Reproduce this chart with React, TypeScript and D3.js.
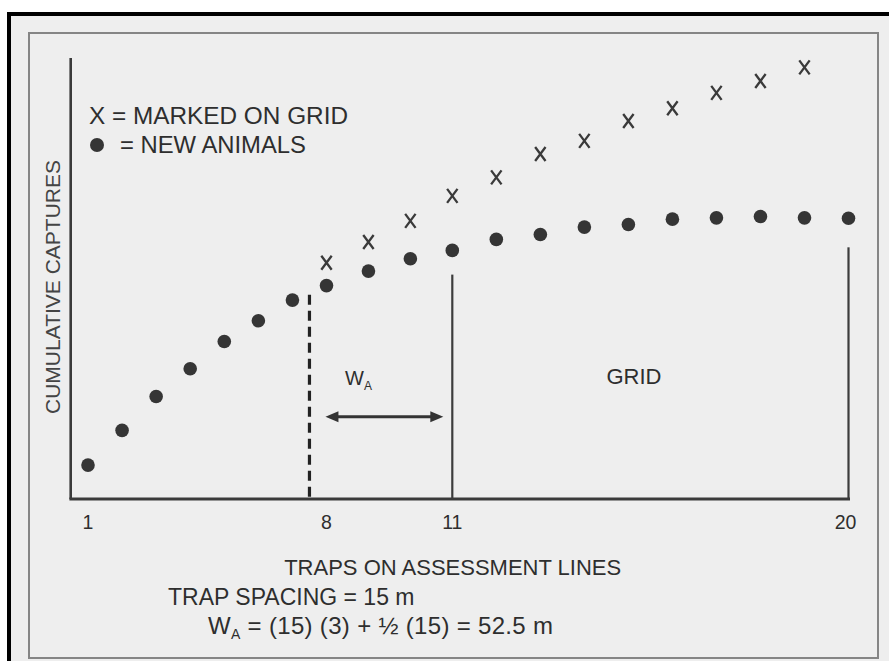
import * as d3 from 'd3';
import React from 'react';

// trap numbers along the assessment line
const TRAPS = [1, 2, 3, 4, 5, 6, 7, 8, 9, 10, 11, 12, 13, 14, 15, 16, 17, 18, 19, 20];
// cumulative new animals (arbitrary units)
const NEW_ANIMALS = [7.7, 15.6, 23.3, 29.6, 35.8, 40.5, 45.2, 48.5, 51.8, 54.6, 56.5, 59.0, 60.1, 61.8, 62.4, 63.6, 63.9, 64.2, 63.9, 63.8];
// traps where animals already marked on the grid were captured
const MARKED_TRAPS = [8, 9, 10, 11, 12, 13, 14, 15, 16, 17, 18, 19];
const MARKED_ON_GRID = [53.7, 58.4, 63.2, 68.9, 73.1, 78.4, 81.4, 85.9, 88.8, 92.3, 95.0, 98.1];
const TICK_TRAPS = [1, 8, 11, 20];

// boundary lines: dashed = edge of W_A, solid = grid edge, last = end of line
const BOUNDARY_TRAPS = [7.5, 11, 20];
const BOUNDARY_TOPS = [46.4, 51.0, 57.2];
const BOUNDARY_DASHED = [true, false, false];

const WIDTH = 889;
const HEIGHT = 661;
const INK = '#2e2e2e';
const FONT = '"Liberation Sans", Arial, Helvetica, sans-serif';

export default function App() {
  // the drawn axis is not evenly spaced, so pin it at the labelled traps
  const x = d3.scaleLinear().domain(TICK_TRAPS).range([88, 326.5, 452.3, 848.5]);
  const y = d3.scaleLinear().domain([0, 100]).range([499, 59]);

  const x0 = 70.7;
  const xEnd = x(20) + 1.5;
  const arrowY = 416.7;
  const arrowL = x(7.5) + 16;
  const arrowR = x(11) - 9;

  const dots = TRAPS.map((t, i) => (
    <circle key={t} cx={x(t)} cy={y(NEW_ANIMALS[i])} r={6.8} fill="#353535" />
  ));

  // X marks drawn as two strokes, like the letter in the original
  const crosses = MARKED_TRAPS.map((t, i) => {
    const cx = x(t);
    const cy = y(MARKED_ON_GRID[i]);
    return (
      <path
        key={t}
        d={`M${cx - 5.2},${cy - 7} L${cx + 5.2},${cy + 7} M${cx + 5.2},${cy - 7} L${cx - 5.2},${cy + 7}`}
        stroke="#3a3a3a"
        strokeWidth={2.3}
        fill="none"
      />
    );
  });

  const boundaries = BOUNDARY_TRAPS.map((t, i) => (
    <line
      key={t}
      x1={x(t)}
      x2={x(t)}
      y1={y(BOUNDARY_TOPS[i])}
      y2={499}
      stroke={BOUNDARY_DASHED[i] ? '#222' : '#3c3c3c'}
      strokeWidth={BOUNDARY_DASHED[i] ? 3.2 : 2.2}
      strokeDasharray={BOUNDARY_DASHED[i] ? '10 6' : undefined}
    />
  ));

  const tickLabels = TICK_TRAPS.map(t => (
    <text key={t} x={t === 20 ? x(t) - 3 : x(t)} y={528.5} textAnchor="middle" fontSize={19.5}>
      {t}
    </text>
  ));

  return (
    <svg
      width={WIDTH}
      height={HEIGHT}
      style={{ position: 'absolute', left: 0, top: 0, background: '#fff' }}
      fontFamily={FONT}
    >
      <rect x={7} y={12} width={WIDTH - 7} height={HEIGHT - 12} fill="#eeeeee" />
      <rect x={7} y={12} width={WIDTH - 7} height={4} fill="#000" />
      <rect x={7} y={12} width={4} height={HEIGHT - 12} fill="#000" />
      <rect x={29} y={33} width={849} height={625} fill="none" stroke="#858585" strokeWidth={2} />

      <g fill={INK}>
        {/* axes */}
        <line x1={x0} x2={x0} y1={58} y2={499} stroke="#3a3a3a" strokeWidth={2.6} />
        <line x1={x0 - 1.3} x2={xEnd} y1={499} y2={499} stroke="#3a3a3a" strokeWidth={3} />
        {boundaries}

        {/* W_A arrow */}
        <line x1={arrowL + 10} x2={arrowR - 10} y1={arrowY} y2={arrowY} stroke="#333" strokeWidth={3} />
        <path d={`M${arrowL},${arrowY} l13,-5.5 l0,11 z`} fill="#333" />
        <path d={`M${arrowR},${arrowY} l-13,-5.5 l0,11 z`} fill="#333" />
        <text x={345} y={385} fontSize={20}>
          W<tspan fontSize={12} dy={5}>A</tspan>
        </text>
        <text x={634} y={383.5} textAnchor="middle" fontSize={22}>
          GRID
        </text>

        {dots}
        {crosses}
        {tickLabels}

        {/* legend */}
        <text x={89} y={123.5} fontSize={23.5} textLength={259} lengthAdjust="spacingAndGlyphs">
          X = MARKED ON GRID
        </text>
        <circle cx={97} cy={145} r={7} fill="#353535" />
        <text x={120} y={152.7} fontSize={23.5} textLength={186} lengthAdjust="spacingAndGlyphs">
          = NEW ANIMALS
        </text>

        <text transform="translate(60,287) rotate(-90)" textAnchor="middle" fontSize={21} fill="#444">
          CUMULATIVE CAPTURES
        </text>

        <text x={452.7} y={575} textAnchor="middle" fontSize={22}>
          TRAPS ON ASSESSMENT LINES
        </text>
        <text x={168} y={605} fontSize={23}>
          TRAP SPACING = 15 m
        </text>
        <text x={208} y={634} fontSize={24} textLength={345} lengthAdjust="spacing">
          W<tspan fontSize={14} dy={5}>A</tspan>
          <tspan dy={-5}> = (15) (3) + ½ (15) = 52.5 m</tspan>
        </text>
      </g>
    </svg>
  );
}
